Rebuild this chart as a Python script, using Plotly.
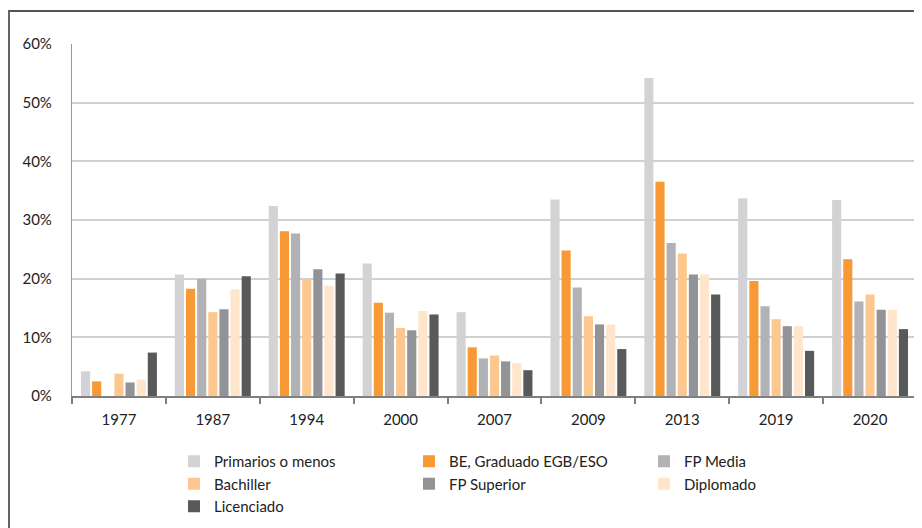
import plotly.graph_objects as go

years = ["1977", "1987", "1994", "2000", "2007", "2009", "2013", "2019", "2020"]

primarios = [4.2, 20.7, 32.4, 22.6, 14.3, 33.5, 54.2, 33.7, 33.4]
be_graduado = [2.5, 18.3, 28.1, 15.9, 8.3, 24.8, 36.5, 19.6, 23.3]
fp_media = [0.0, 20.0, 27.7, 14.2, 6.4, 18.5, 26.1, 15.3, 16.1]
bachiller = [3.8, 14.3, 19.8, 11.6, 6.9, 13.6, 24.3, 13.1, 17.3]
fp_superior = [2.3, 14.8, 21.6, 11.2, 5.9, 12.2, 20.7, 11.9, 14.7]
diplomado = [2.8, 18.2, 18.8, 14.5, 5.6, 12.2, 20.7, 11.9, 14.7]
licenciado = [7.4, 20.4, 20.9, 13.9, 4.4, 8.0, 17.3, 7.7, 11.4]

series_names = ["Primarios o menos", "BE, Graduado EGB/ESO", "FP Media",
                "Bachiller", "FP Superior", "Diplomado", "Licenciado"]
series_values = [primarios, be_graduado, fp_media, bachiller, fp_superior, diplomado, licenciado]
colors = ["#D3D3D5", "#F79A36", "#B1B2B5", "#FDC890", "#929396", "#FEE5CC", "#58595B"]

tick_vals = [0, 10, 20, 30, 40, 50, 60]
tick_text = ["0%", "10%", "20%", "30%", "40%", "50%", "60%"]

fig = go.Figure()
for name, vals, col in zip(series_names, series_values, colors):
    fig.add_trace(go.Bar(x=years, y=vals, name=name, marker_color=col,
                         marker_line_width=0))

# page has an 8px body offset; work in screen coordinates and subtract it
OFF = 8
W, H = 922 - OFF, 528 - OFF
L = 72 - OFF
T = 44 - OFF
R = W - (917 - OFF)
B = H - (396 - OFF)
pw = W - L - R
ph = H - T - B

def px_x(sx):
    return (sx - OFF - L) / pw

def px_y(sy):
    return (H - B - (sy - OFF)) / ph

fig.update_layout(
    width=W, height=H,
    margin=dict(l=L, r=R, t=T, b=B, pad=0),
    paper_bgcolor="white", plot_bgcolor="white",
    barmode="group", bargap=0.17, bargroupgap=0.18,
    font=dict(family="Lato, 'Open Sans', sans-serif", size=15, color="#222222"),
    showlegend=True,
    legend=dict(orientation="h", x=px_x(174), xanchor="left",
                y=px_y(445), yanchor="top",
                entrywidth=190, entrywidthmode="pixels",
                font=dict(size=15, color="#222222"),
                traceorder="normal", itemsizing="constant",
                tracegroupgap=0, bgcolor="rgba(0,0,0,0)"),
    xaxis=dict(type="category", showgrid=False, showline=True,
               linecolor="#7f7f7f", linewidth=1.5,
               ticks="outside", tickson="boundaries", ticklen=6,
               tickcolor="#7f7f7f", tickwidth=1.5, ticklabelstandoff=9,
               tickfont=dict(size=15, color="#222222")),
    yaxis=dict(range=[0, 60], tickvals=tick_vals, ticktext=tick_text,
               showgrid=True, gridcolor="#D0D0D0", gridwidth=1.5,
               showline=True, linecolor="#9a9a9a", linewidth=1.2,
               ticks="", ticklabelstandoff=16, zeroline=False,
               tickfont=dict(size=15, color="#222222")),
    shapes=[dict(type="rect", xref="paper", yref="paper",
                 x0=px_x(9), x1=px_x(935),
                 y0=px_y(545), y1=px_y(11),
                 line=dict(color="#555555", width=1.8),
                 fillcolor="rgba(0,0,0,0)", layer="below")],
)

fig.write_html("out.html")
